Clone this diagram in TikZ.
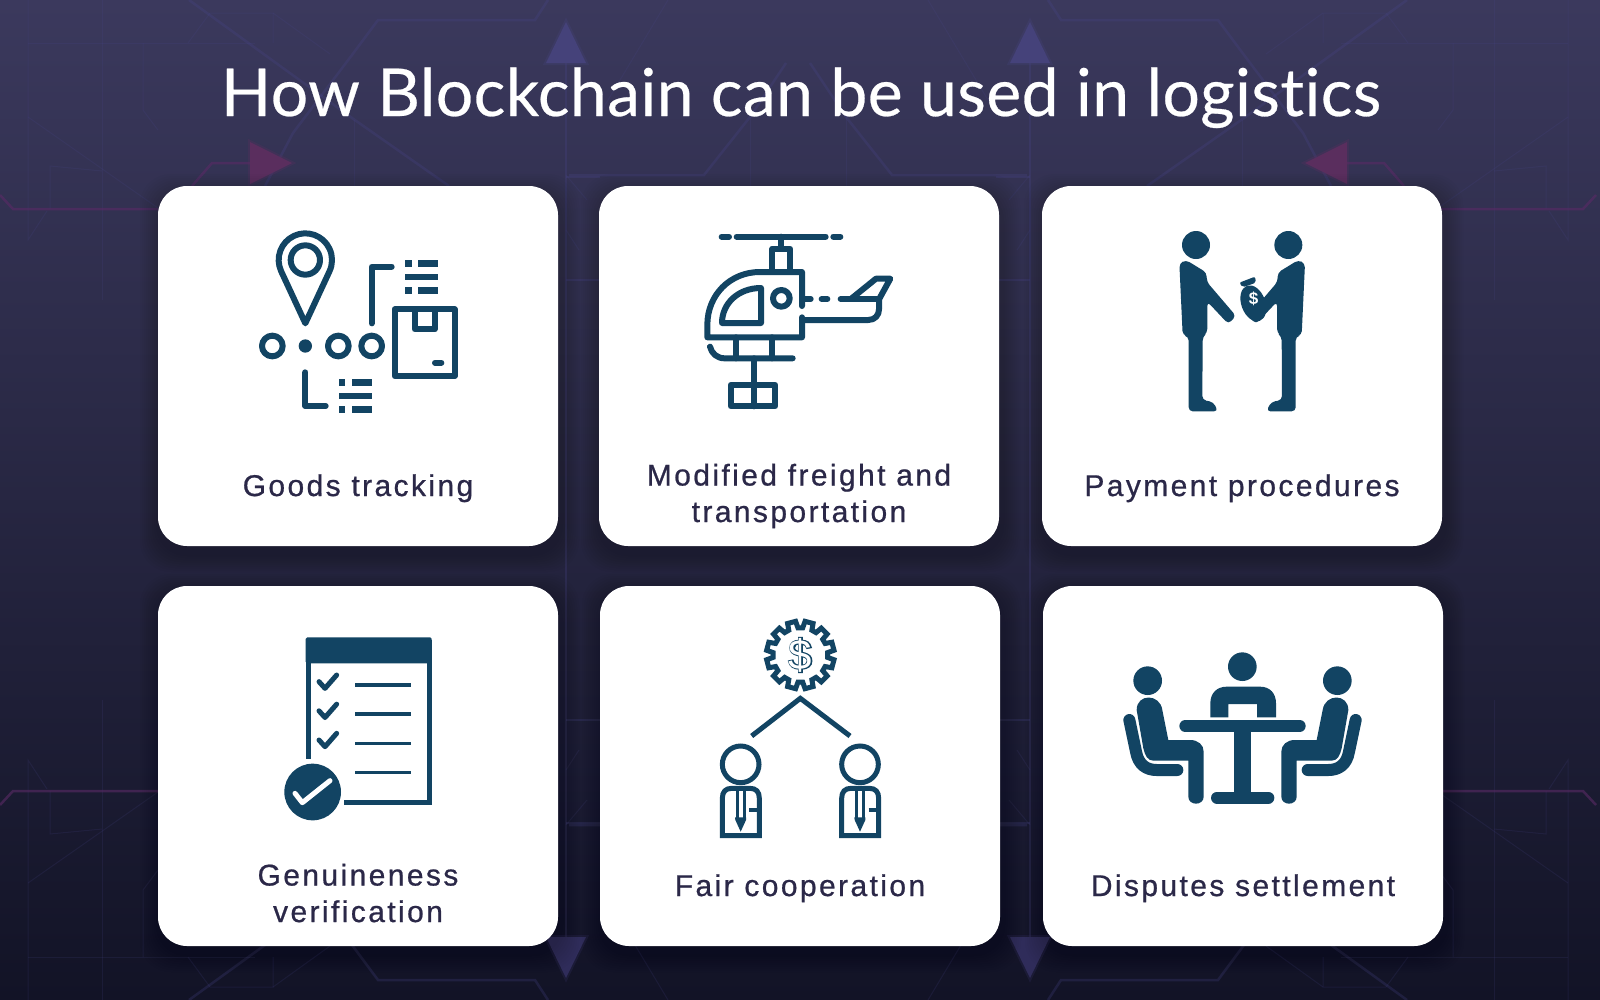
\documentclass[tikz,border=0pt]{standalone}
\usepackage{fontspec}
\setmainfont{Liberation Sans}
\newfontfamily\titlefont[LetterSpace=0.7,Ligatures=NoCommon,FakeBold=0.4]{Lato}
\newfontfamily\cardfont[LetterSpace=8,FakeBold=0.7]{Liberation Sans}
\newfontfamily\signfont[FakeBold=5]{Liberation Sans}
\usetikzlibrary{positioning,calc}
\definecolor{icon}{HTML}{124463}
\definecolor{cardink}{HTML}{2B2848}
\definecolor{wirecol}{HTML}{4A4790}
\definecolor{wirepink}{HTML}{5A2A66}
\definecolor{bgtop}{RGB}{59,57,93}
\definecolor{bgmid}{RGB}{41,39,75}
\definecolor{bgbot}{RGB}{18,19,38}
\definecolor{headup}{RGB}{69,66,122}
\definecolor{headdown}{RGB}{47,44,90}
\definecolor{headpink}{RGB}{90,46,94}
\tikzset{
	card/.style={fill=white,rounded corners=29pt,minimum width=400pt,minimum height=360pt,inner sep=0pt},
	cardshade/.style={fill=black,rounded corners=31pt,opacity=.018},
	cardtext/.style={text=cardink,font=\cardfont\fontsize{30}{36.5}\selectfont,align=center,anchor=base,inner sep=0pt},
	wire/.style={draw=wirecol,line width=1pt,opacity=.16},
	wirebold/.style={draw=wirecol,line width=2.5pt,opacity=.24},
	wirehot/.style={draw=wirepink,line width=2.5pt,opacity=.6},
	ln/.style={draw=icon,line width=6pt,line cap=round,line join=round},
	lnflat/.style={draw=icon,line width=5pt,line cap=butt,line join=miter},
	headglow/.style={line width=4pt,opacity=.3},
}
\begin{document}
\begin{tikzpicture}[x=1pt,y=1pt,yscale=-1]
\useasboundingbox (0,0) rectangle (1600,999);
\shade[top color=bgtop,middle color=bgmid,bottom color=bgbot] (0,0) rectangle (1600,999);
\begin{scope}
\clip (0,0) rectangle (1600,999);
% circuit lines, one quarter mirrored
\foreach \sx/\ox in {1/0,-1/1596}{
\foreach \sy/\oy in {1/0,-1/1000}{
\begin{scope}[shift={(\ox,\oy)},xscale=\sx,yscale=\sy]
	\draw[wire] (28,0) -- (28,240) -- (47,211);
	\draw[wire] (50,209) -- (50,166) -- (102,171);
	\draw[wire] (102,0) -- (102,300);
	\draw[wire] (28,117) -- (158,208);
	\draw[wire] (28,43) -- (255,43);
	\draw[wire] (143,43) -- (143,110) -- (158,130);
	\draw[wire] (188,43) -- (210,13) -- (273,13) -- (273,43);
	\draw[wire] (273,13) -- (330,54);
	\draw[wire] (354,120) -- (354,186);
	\draw[wire] (750,117) -- (750,186);
	\draw[wire] (602,110) -- (668,0);
	\draw[wire] (579,250) -- (566,230);
	\draw[wire] (587,200) -- (566,175);
	\draw[wirebold] (189,0) -- (352,118) -- (449,186);
	\draw[wirebold] (548,0) -- (535,20) -- (378,20) -- (352,55) -- (293,133) -- (265,186);
	\draw[wirebold] (569,175) -- (704,175) -- (750,117) -- (786,63);
	\draw[wirebold] (566,63) -- (566,500);
	\draw[wirebold] (566,280) -- (600,280);
	\draw[wirebold] (566,177) -- (600,177);
	\draw[wirehot] (0,195) -- (13,209) -- (158,209);
\end{scope}
}}
\draw[wirehot] (250,163) -- (212,163) -- (192,186);
\draw[wirehot] (1346,163) -- (1384,163) -- (1404,186);
\end{scope}
% arrow heads
\foreach \tx in {566,1030}{
	\fill[headup] (\tx,22) -- (\tx+20,63) -- (\tx-20,63) -- cycle;
	\draw[headup,headglow] (\tx,22) -- (\tx+20,63) -- (\tx-20,63) -- cycle;
	\fill[headdown] (\tx,978) -- (\tx+20,937) -- (\tx-20,937) -- cycle;
	\draw[headdown,headglow] (\tx,978) -- (\tx+20,937) -- (\tx-20,937) -- cycle;
}
\fill[headpink] (250,142) -- (292,163) -- (250,184) -- cycle;
\draw[headpink,headglow] (250,142) -- (292,163) -- (250,184) -- cycle;
\fill[headpink] (1347,142) -- (1305,163) -- (1347,184) -- cycle;
\draw[headpink,headglow] (1347,142) -- (1305,163) -- (1347,184) -- cycle;
\node[text=white,anchor=base,inner sep=0pt,font=\titlefont\fontsize{66}{66}\selectfont] (title) at (801,116) {How Blockchain can be used in logistics};
% cards
\foreach \nm/\cx/\cy in {track/358/366,freight/799/366,pay/1242/366,genuine/358/766,fair/800/766,dispute/1243/766}{
	\foreach \gr in {1,...,9}{
		\fill[cardshade] ($(\cx,\cy)+(-200-2*\gr,-180-2*\gr+6)$) rectangle ($(\cx,\cy)+(200+2*\gr+3,180+2*\gr+8)$);
	}
	\node[card] (\nm) at (\cx,\cy) {};
}
\node[cardtext] (tracktext) at (358,496) {Goods tracking};
\node[cardtext] (freighttext) at (799,522) {Modified freight and\\transportation};
\node[cardtext] (paytext) at (1242,496) {Payment procedures};
\node[cardtext] (genuinetext) at (358,922) {Genuineness\\verification};
\node[cardtext] (fairtext) at (800,896) {Fair cooperation};
\node[cardtext] (disputetext) at (1243,896) {Disputes settlement};
% location pin and box
\begin{scope}[shift={(240,210)},scale=1/3]
	\draw[ln] (196,340) -- (123.5,183.8) arc[start angle=155,end angle=385,radius=80] -- cycle;
	\draw[ln] (196,150) circle (44);
	\foreach \dx in {97,295,395}{\draw[ln] (\dx,408) circle (31);}
	\fill[icon] (196,408) circle (20);
	\draw[ln] (395,340) -- (395,170) -- (455,170);
	\draw[ln] (196,487) -- (196,588) -- (257,588);
	\foreach \lx/\ly in {495/151,296/508}{
		\fill[icon] (\lx,\ly) rectangle ++(20,20);
		\fill[icon] (\lx+39,\ly) rectangle ++(60,20);
		\fill[icon] (\lx,\ly+40) rectangle ++(99,20);
		\fill[icon] (\lx,\ly+80) rectangle ++(20,20);
		\fill[icon] (\lx+39,\ly+80) rectangle ++(60,20);
	}
	\draw[ln] (464,298) rectangle (644,498);
	\draw[ln] (524,298) -- (524,358) -- (584,358) -- (584,298);
	\draw[ln] (585,458) -- (604,458);
\end{scope}
% helicopter
\begin{scope}[shift={(680,210)},scale=1/3]
	\draw[ln] (125,80) -- (147,80);
	\draw[ln] (170,80) -- (437,80);
	\draw[ln] (460,80) -- (481,80);
	\draw[ln] (304,80) -- (304,115);
	\draw[ln] (277,180) -- (277,116) -- (330,116) -- (330,180);
	\draw[ln] (366,288) -- (366,186) -- (240,186) .. controls (150,186) and (82,255) .. (82,345) -- (82,382) -- (366,382) -- (366,322);
	\draw[ln] (366,330) -- (565,330) .. controls (585,330) and (597,315) .. (597,298) -- (597,268);
	\draw[ln] (126,339) -- (243,339) -- (243,234) .. controls (175,234) and (126,280) .. (126,339) -- cycle;
	\draw[ln] (304,265) circle (25);
	\draw[ln] (375,267) -- (392,267);
	\draw[ln] (425,267) -- (442,267);
	\draw[ln] (482,267) -- (597,267);
	\draw[ln] (515,265) -- (588,206) -- (631,206) -- (597,268);
	\draw[ln] (90,410) .. controls (95,430) and (110,445) .. (135,445) -- (338,445);
	\draw[ln] (169,382) -- (169,445);
	\draw[ln] (277,382) -- (277,445);
	\draw[ln] (223,445) -- (223,525);
	\draw[ln] (152,525) rectangle (286,589);
	\draw[ln] (223,525) -- (223,589);
\end{scope}
% two men and money bag
\begin{scope}[shift={(1150,210)},scale=1/3]
	\foreach \flip/\off in {1/0,-1/553}{
	\begin{scope}[shift={(\off,0)},xscale=\flip]
		\fill[icon] (138,105) circle (42);
		\fill[icon,rounded corners=4pt] (88,160) -- (108,150) -- (170,188) -- (170,215) -- (258,318) -- (235,342) -- (172,275) -- (172,368) -- (158,380) -- (157,570) -- (190,576) -- (204,604) -- (116,604) -- (116,380) -- (98,375) -- cycle;
	\end{scope}
	}
	\fill[icon,rotate around={-20:(310,280)}] (310,280) ellipse (36 and 56);
	\fill[icon,rounded corners=2pt] (268,218) -- (315,200) -- (318,218) -- (278,232) -- cycle;
	\node[text=white,font=\bfseries\fontsize{17}{17}\selectfont,inner sep=0pt] (bagsign) at (311,265) {\$};
\end{scope}
% checklist
\begin{scope}[shift={(260,620)},scale=1/3]
	\fill[icon,rounded corners=1.5pt] (137,52) rectangle (515,130);
	\draw[lnflat] (144,60) -- (144,416);
	\draw[lnflat] (507,60) -- (507,548) -- (252,548);
	\foreach \cy in {0,87.5,175}{
		\draw[ln,line width=5pt] (177,185+\cy) -- (195,205+\cy) -- (230,165+\cy);
	}
	\foreach \cy in {195,282.5,370,457}{
		\draw[lnflat,line width=3.5pt] (285,\cy) -- (454,\cy);
	}
	\fill[icon] (158,516) circle (85);
	\draw[ln,draw=white,line width=5pt] (105,520) -- (127,548) -- (210,482);
\end{scope}
% gear and two clerks
\begin{scope}[shift={(690,610)},scale=1/3]
	\draw[lnflat] ($(331,135)+(5:82)$) \foreach \ga in {15,45,...,345}{ -- ($(331,135)+(\ga-10:82)$) -- ($(331,135)+(\ga-7:102)$) -- ($(331,135)+(\ga+7:102)$) -- ($(331,135)+(\ga+10:82)$)} -- cycle;
	\node[text=icon,font=\signfont\fontsize{42}{42}\selectfont,inner sep=0pt] (gearsign) at (331,135) {\$};
	\node[text=white,font=\fontsize{42}{42}\selectfont,inner sep=0pt] (gearcore) at (331,135) {\$};
	\draw[lnflat] (185,378) -- (331,265) -- (480,378);
	\foreach \mx in {0,358}{
		\draw[lnflat] (152+\mx,463) circle (55);
		\draw[lnflat] (97+\mx,677) -- (97+\mx,565) .. controls (97+\mx,545) and (107+\mx,535) .. (125+\mx,535) -- (180+\mx,535) .. controls (198+\mx,535) and (208+\mx,545) .. (208+\mx,565) -- (208+\mx,677) -- cycle;
		\draw[lnflat,line width=3pt] (141+\mx,535) -- (141+\mx,625);
		\draw[lnflat,line width=3pt] (163+\mx,535) -- (163+\mx,625);
		\fill[icon] (135+\mx,622) -- (168+\mx,622) -- (168+\mx,630) -- (152+\mx,665) -- (136+\mx,630) -- cycle;
		\draw[lnflat,line width=4pt] (178+\mx,600) -- (208+\mx,600);
	}
\end{scope}
% meeting at a table
\begin{scope}[shift={(1110,640)},scale=1/3]
	\fill[icon] (397,80) circle (43);
	\fill[icon] (301,232) -- (301,190) .. controls (301,160) and (320,140) .. (350,140) -- (450,140) .. controls (480,140) and (498,160) .. (498,190) -- (498,232) -- (441,232) -- (441,192) -- (355,192) -- (355,232) -- cycle;
	\draw[ln,line width=12pt] (226,258) -- (569,258);
	\fill[icon] (373,270) rectangle (422,465);
	\draw[ln,line width=12pt] (321,473) -- (475,473);
	\foreach \flip/\off in {1/0,-1/795}{
	\begin{scope}[shift={(\off,0)},xscale=\flip]
		\fill[icon] (113,122) circle (43);
		\fill[icon] (80,210) .. controls (80,160) and (150,160) .. (157,210) -- (175,300) -- (240,300) .. controls (265,300) and (281,315) .. (281,335) -- (281,470) .. controls (281,498) and (235,498) .. (235,470) -- (235,362) -- (130,362) .. controls (112,362) and (105,345) .. (100,325) -- cycle;
		\draw[ln,line width=12pt] (58,240) -- (78,335) .. controls (85,375) and (110,390) .. (140,390) -- (202,390);
	\end{scope}
	}
\end{scope}
\end{tikzpicture}
\end{document}
